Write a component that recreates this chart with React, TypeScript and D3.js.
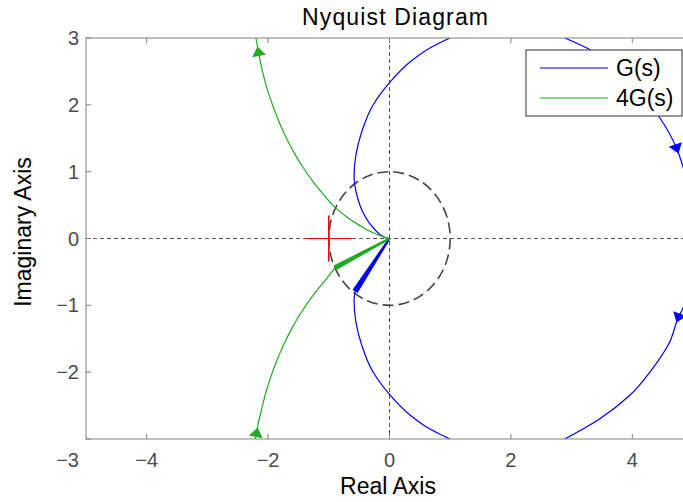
import React from "react";
import * as d3 from "d3";

const W = 683;
const H = 502;

// Axes limits and tick marks
const xDomain: [number, number] = [-5, 5];
const yDomain: [number, number] = [-3, 3];
const xTicks = [-4, -2, 0, 2, 4];
const xTickLabels = ["−4", "−2", "0", "2", "4"];
const yTicks = [3, 2, 1, 0, -1, -2, -3];
const yTickLabels = ["3", "2", "1", "0", "−1", "−2", "−3"];

// G(s): branch leaving the origin upward (left lobe)
const gUpperLeft: [number, number][] = [
  [0, 0], [-0.074, 0.015], [-0.271, 0.165], [-0.436, 0.39], [-0.535, 0.64],
  [-0.584, 0.94], [-0.555, 1.24], [-0.46, 1.59], [-0.275, 1.99], [0.008, 2.34],
  [0.337, 2.64], [0.666, 2.85], [0.995, 3.0],
];
// G(s): lower left lobe, ending where the dense segment reaches the origin
const gLowerLeft: [number, number][] = [
  [-0.567, -0.79], [-0.584, -0.94], [-0.555, -1.24], [-0.46, -1.59], [-0.275, -1.99],
  [0.008, -2.34], [0.337, -2.64], [0.666, -2.85], [0.995, -3.0],
];
// G(s): large arc on the right
const gUpperRight: [number, number][] = [
  [2.887, 3.0], [3.25, 2.85], [3.9, 2.4], [4.45, 1.81], [4.73, 1.35], [4.83, 1.09], [4.92, 0.8],
];
const gLowerRight: [number, number][] = [
  [4.92, -0.8], [4.83, -1.05], [4.76, -1.18], [4.61, -1.56], [4.33, -1.95],
  [3.955, -2.35], [3.46, -2.7], [2.887, -3.0],
];
const gDenseEnd: [number, number] = [-0.567, -0.79];

// 4G(s)
const g4Upper: [number, number][] = [
  [0, 0], [-0.09, 0.02], [-0.2, 0.06], [-0.35, 0.12], [-0.5, 0.2], [-0.67, 0.3],
  [-0.88, 0.45], [-1.08, 0.65], [-1.25, 0.84], [-1.45, 1.1], [-1.6, 1.33],
  [-1.75, 1.6], [-1.9, 1.93], [-2.02, 2.25], [-2.1, 2.53], [-2.16, 2.79], [-2.2, 3.0],
];
const g4Lower: [number, number][] = [
  [-0.9, -0.44], [-1.08, -0.65], [-1.25, -0.84], [-1.45, -1.1], [-1.6, -1.33],
  [-1.75, -1.6], [-1.9, -1.93], [-2.02, -2.25], [-2.1, -2.53], [-2.17, -2.8],
  [-2.19, -2.91], [-2.21, -3.0],
];
const g4DenseEnd: [number, number] = [-0.9, -0.44];

// Direction arrows: [point, next point along the curve]
const gArrows: [number, number][][] = [
  [[4.73, 1.35], [4.83, 1.09]],
  [[4.76, -1.18], [4.61, -1.56]],
];
const g4Arrows: [number, number][][] = [
  [[-2.16, 2.79], [-2.2, 3.0]],
  [[-2.19, -2.91], [-2.1, -2.53]],
];

const criticalPoint: [number, number] = [-1, 0];
const legendLabels = ["G(s)", "4G(s)"];

const BLUE = "#0000ff";
const GREEN = "#22aa22";
const FONT = "'Liberation Sans', Arial, Helvetica, sans-serif";

const margin = { left: 86, right: 693, top: 38, bottom: 439 };

export default function App() {
  const x = d3.scaleLinear().domain(xDomain).range([margin.left, margin.right]);
  const y = d3.scaleLinear().domain(yDomain).range([margin.bottom, margin.top]);

  // every branch is single-valued in the imaginary part, so draw it monotone in y
  const line = (pts: [number, number][]) =>
    d3
      .line<[number, number]>()
      .x((d) => x(d[0]))
      .y((d) => y(d[1]))
      .curve(d3.curveMonotoneY)([...pts].sort((a, b) => b[1] - a[1])) || "";

  const wedge = (end: [number, number], w0: number, w1: number) => {
    const x0 = x(0), y0 = y(0), x1 = x(end[0]), y1 = y(end[1]);
    const len = Math.hypot(x1 - x0, y1 - y0);
    const nx = -(y1 - y0) / len, ny = (x1 - x0) / len;
    const pts = [
      [x0 + (nx * w0) / 2, y0 + (ny * w0) / 2],
      [x1 + (nx * w1) / 2, y1 + (ny * w1) / 2],
      [x1 - (nx * w1) / 2, y1 - (ny * w1) / 2],
      [x0 - (nx * w0) / 2, y0 - (ny * w0) / 2],
    ];
    return "M" + pts.map((p) => p.join(",")).join("L") + "Z";
  };

  const arrow = (a: [number, number][]) => {
    const px = x(a[0][0]), py = y(a[0][1]);
    const qx = x(a[1][0]), qy = y(a[1][1]);
    const len = Math.hypot(qx - px, qy - py);
    const ux = (qx - px) / len, uy = (qy - py) / len;
    const nx = -uy, ny = ux;
    const tip = [px + ux * 5.5, py + uy * 5.5];
    const bx = px - ux * 4, by = py - uy * 4;
    return `M${tip[0]},${tip[1]}L${bx + nx * 7},${by + ny * 7}L${bx - nx * 7},${by - ny * 7}Z`;
  };

  const cx = x(0), cy = y(0);
  const rx = x(1) - x(0), ry = y(0) - y(1);
  const xLabelBaseline = 467;

  return (
    <svg
      width={W}
      height={H}
      style={{ position: "absolute", left: 0, top: 0, background: "#fff" }}
      fontFamily={FONT}
    >
      <defs>
        <clipPath id="plotArea">
          <rect x={margin.left} y={margin.top} width={margin.right - margin.left} height={margin.bottom - margin.top} />
        </clipPath>
      </defs>
      <rect x={0} y={0} width={W} height={H} fill="#fff" />

      <g clipPath="url(#plotArea)">
        {/* real and imaginary axes through the origin */}
        <line x1={margin.left} x2={margin.right} y1={cy} y2={cy} stroke="#555" strokeWidth={1} strokeDasharray="4 3" />
        <line x1={cx} x2={cx} y1={margin.top} y2={margin.bottom} stroke="#555" strokeWidth={1} strokeDasharray="4 3" />
        {/* unit circle */}
        <ellipse cx={cx} cy={cy} rx={rx} ry={ry} fill="none" stroke="#444" strokeWidth={1.6} strokeDasharray="11 5" />

        {/* G(s) */}
        {[gUpperLeft, gLowerLeft, gUpperRight, gLowerRight].map((d, i) => (
          <path key={"g" + i} d={line(d)} fill="none" stroke={BLUE} strokeWidth={1.2} />
        ))}
        <path d={wedge(gDenseEnd, 2, 6)} fill={BLUE} />
        {gArrows.map((a, i) => (
          <path key={"ga" + i} d={arrow(a)} fill={BLUE} />
        ))}

        {/* 4G(s) */}
        {[g4Upper, g4Lower].map((d, i) => (
          <path key={"g4" + i} d={line(d)} fill="none" stroke={GREEN} strokeWidth={1.2} />
        ))}
        <path d={wedge(g4DenseEnd, 2, 5.5)} fill={GREEN} />
        {g4Arrows.map((a, i) => (
          <path key={"g4a" + i} d={arrow(a)} fill={GREEN} />
        ))}

        {/* critical point -1 */}
        <line x1={x(criticalPoint[0]) - 23} x2={x(criticalPoint[0]) + 23} y1={y(criticalPoint[1])} y2={y(criticalPoint[1])} stroke="#ff0000" strokeWidth={1.2} />
        <line x1={x(criticalPoint[0])} x2={x(criticalPoint[0])} y1={y(criticalPoint[1]) - 23} y2={y(criticalPoint[1]) + 23} stroke="#ff0000" strokeWidth={1.6} />
      </g>

      {/* axes box */}
      <rect x={margin.left} y={margin.top} width={margin.right - margin.left} height={margin.bottom - margin.top} fill="none" stroke="#808080" strokeWidth={1} />
      {xTicks.map((t) => (
        <g key={"xt" + t}>
          <line x1={x(t)} x2={x(t)} y1={margin.bottom} y2={margin.bottom - 5} stroke="#808080" />
          <line x1={x(t)} x2={x(t)} y1={margin.top} y2={margin.top + 5} stroke="#808080" />
        </g>
      ))}
      {yTicks.map((t) => (
        <g key={"yt" + t}>
          <line x1={margin.left} x2={margin.left + 5} y1={y(t)} y2={y(t)} stroke="#808080" />
          <line x1={margin.right} x2={margin.right - 5} y1={y(t)} y2={y(t)} stroke="#808080" />
        </g>
      ))}

      {/* tick labels */}
      {xTicks.map((t, i) => (
        <text key={"xl" + t} x={x(t)} y={xLabelBaseline} textAnchor="middle" fontSize={20} fill="#4d4d4d">
          {xTickLabels[i]}
        </text>
      ))}
      {yTicks.map((t, i) => (
        <text
          key={"yl" + t}
          x={79}
          y={t === yDomain[0] ? xLabelBaseline : y(t) + 7}
          textAnchor="end"
          fontSize={20}
          fill="#4d4d4d"
        >
          {yTickLabels[i]}
        </text>
      ))}

      {/* titles */}
      <text x={395} y={25} textAnchor="middle" fontSize={23} textLength={186} lengthAdjust="spacing" fill="#000">
        Nyquist Diagram
      </text>
      <text x={388} y={494} textAnchor="middle" fontSize={23} fill="#000">
        Real Axis
      </text>
      <text transform="translate(31,232) rotate(-90)" textAnchor="middle" fontSize={23} fill="#000">
        Imaginary Axis
      </text>

      {/* legend */}
      <g>
        <rect x={526} y={50} width={156} height={66} fill="#fff" stroke="#333" strokeWidth={1} />
        {legendLabels.map((lab, i) => (
          <g key={lab} transform={`translate(0,${68 + i * 30})`}>
            <line x1={540} x2={608} y1={0} y2={0} stroke={i === 0 ? BLUE : GREEN} strokeWidth={1.2} />
            <text x={616} y={8} fontSize={23} fill="#000">
              {lab}
            </text>
          </g>
        ))}
      </g>
    </svg>
  );
}
